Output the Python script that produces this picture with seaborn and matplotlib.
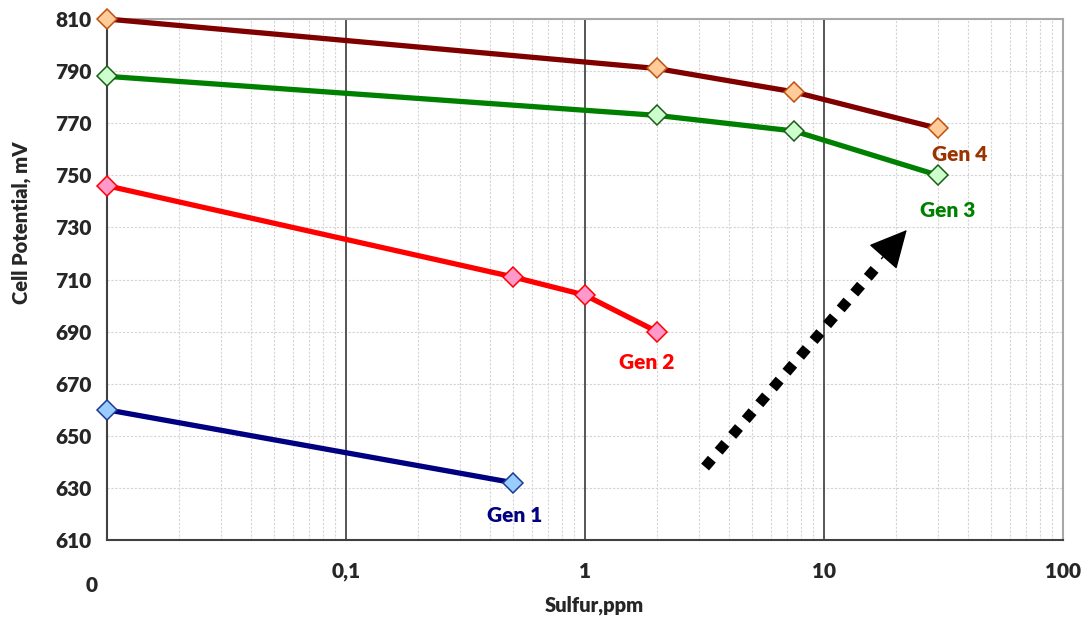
import numpy as np
import pandas as pd
import matplotlib
matplotlib.use("Agg")
import matplotlib.pyplot as plt
import seaborn as sns
from matplotlib.ticker import FixedLocator, LogLocator, NullFormatter

# data
gen1_x = [0.01, 0.5]
gen1_y = [660, 632]
gen2_x = [0.01, 0.5, 1, 2]
gen2_y = [746, 711, 704, 690]
gen3_x = [0.01, 2, 7.5, 30]
gen3_y = [788, 773, 767, 750]
gen4_x = [0.01, 2, 7.5, 30]
gen4_y = [810, 791, 782, 768]

x_ticks = [0.01, 0.1, 1, 10, 100]
x_tick_labels = ["", "0,1", "1", "10", "100"]
y_ticks = list(range(610, 811, 20))

sns.set_style("white")
plt.rcParams["font.family"] = ["Lato", "DejaVu Sans"]
W = "heavy"

fig = plt.figure(figsize=(10.85, 6.19), dpi=100)
ax = fig.add_axes([0.0986, 0.1276, 0.8811, 0.8417])

series = [
    ("Gen 4", gen4_x, gen4_y, "#800000", "#FFCC99", "#C0500F"),
    ("Gen 3", gen3_x, gen3_y, "#008000", "#CCFFCC", "#1A5E1A"),
    ("Gen 2", gen2_x, gen2_y, "#FF0000", "#FF99CC", "#FF0000"),
    ("Gen 1", gen1_x, gen1_y, "#000080", "#99CCFF", "#1F3A93"),
]
for name, xs, ys, lc, mfc, mec in series:
    df = pd.DataFrame({"Sulfur": xs, "Potential": ys})
    sns.lineplot(data=df, x="Sulfur", y="Potential", ax=ax, color=lc,
                 linewidth=3.8, marker="D", markersize=10,
                 markerfacecolor=mfc, markeredgecolor=mec, markeredgewidth=1.1,
                 zorder=4, clip_on=False)

ax.set_xscale("log")
ax.set_xlim(0.01, 100)
ax.set_ylim(610, 810)

ax.xaxis.set_major_locator(FixedLocator(x_ticks))
ax.set_xticklabels(x_tick_labels)
ax.xaxis.set_minor_locator(LogLocator(base=10, subs=np.arange(2, 10)))
ax.xaxis.set_minor_formatter(NullFormatter())
ax.set_yticks(y_ticks)

# grid
ax.grid(False)
for xv in x_ticks[1:-1]:
    ax.axvline(xv, color="#3a3a3a", lw=1.2, zorder=1)
ax.grid(which="minor", axis="x", color="#d4d4d4", linestyle=(0, (2, 1.5)), lw=0.8)
ax.grid(which="major", axis="y", color="#d4d4d4", linestyle=(0, (2, 1.5)), lw=0.8)

ax.tick_params(axis="both", which="major", direction="out", length=5, width=1,
               color="#404040", labelsize=15, pad=6)
ax.tick_params(axis="x", which="major", pad=11)
ax.tick_params(axis="x", which="minor", length=0)
for lab in ax.get_xticklabels() + ax.get_yticklabels():
    lab.set_fontweight(W)

for s in ["left", "bottom"]:
    ax.spines[s].set_color("#404040")
    ax.spines[s].set_linewidth(1.5)
for s in ["top", "right"]:
    ax.spines[s].set_color("#a8a8a8")
    ax.spines[s].set_linewidth(1.5)

ax.set_xlabel("Sulfur,ppm", fontsize=14.5, fontweight=W)
ax.set_ylabel("Cell Potential, mV", fontsize=14.5, fontweight=W)
ax.xaxis.set_label_coords(0.510, -0.107)
ax.yaxis.set_label_coords(-0.080, 0.608)
fig.text(92 / 1085, 1 - 585 / 619, "0", fontsize=15, fontweight=W,
         ha="center", va="center")

# series labels
ax.text(37.1, 757.8, "Gen 4", color="#993300", fontsize=15, fontweight=W,
        ha="center", va="center")
ax.text(33.0, 736.3, "Gen 3", color="#008000", fontsize=15, fontweight=W,
        ha="center", va="center")
ax.text(1.82, 678, "Gen 2", color="#FF0000", fontsize=15, fontweight=W,
        ha="center", va="center")
ax.text(0.51, 619.6, "Gen 1", color="#000080", fontsize=15, fontweight=W,
        ha="center", va="center")

# dotted trend arrow
ax.plot([3.18, 17.15], [638, 716.3], color="black", lw=7.5,
        linestyle=(0, (1, 1)), dash_capstyle="butt", zorder=5)
ax.annotate("", xy=(22.2, 729), xytext=(17.4, 718),
            arrowprops=dict(arrowstyle="-|>,head_length=1.1,head_width=0.55",
                            color="black", lw=1, shrinkA=0, shrinkB=0,
                            mutation_scale=22), zorder=5)

fig.savefig("out.png", dpi=100)
